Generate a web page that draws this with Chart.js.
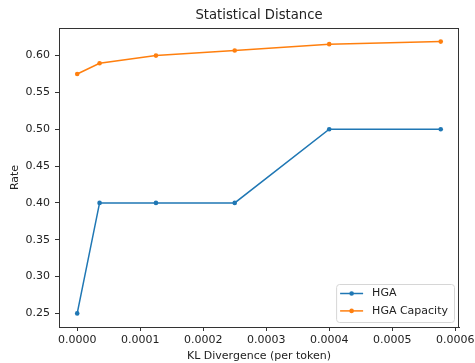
<!DOCTYPE html>
<html>
<head>
<meta charset="utf-8">
<script src="https://cdn.jsdelivr.net/npm/chart.js@4/dist/chart.umd.min.js"></script>
<style>
  html, body { margin: 0; padding: 0; background: #fff; }
  canvas { display: block; }
</style>
</head>
<body>
<canvas id="c" width="475" height="363"></canvas>
<script>
const chartTitle = "Statistical Distance";
const xLabel = "KL Divergence (per token)";
const yLabel = "Rate";
const seriesNames = ["HGA", "HGA Capacity"];
const klValues = [0, 0.0000355, 0.000125, 0.00025, 0.0004, 0.000577];
const hgaRate = [0.25, 0.40, 0.40, 0.40, 0.50, 0.50];
const hgaCapacityRate = [0.575, 0.5895, 0.600, 0.607, 0.6155, 0.619];
const xTickValues = [0, 0.0001, 0.0002, 0.0003, 0.0004, 0.0005, 0.0006];
const yTickValues = [0.25, 0.30, 0.35, 0.40, 0.45, 0.50, 0.55, 0.60];

const FONT = "'DejaVu Sans', sans-serif";
const colors = ["#1f77b4", "#ff7f0e"];

function toPoints(xs, ys) { return xs.map((x, i) => ({ x: x, y: ys[i] })); }

const frameAndExtras = {
  id: 'frameAndExtras',
  afterDraw(chart) {
    const { ctx, chartArea: a } = chart;
    ctx.save();
    // top & right spines
    ctx.strokeStyle = '#333';
    ctx.lineWidth = 1;
    ctx.beginPath();
    ctx.moveTo(a.left, a.top + 0.5);
    ctx.lineTo(a.right, a.top + 0.5);
    ctx.moveTo(a.right - 0.5, a.top);
    ctx.lineTo(a.right - 0.5, a.bottom);
    ctx.stroke();
    // title
    ctx.fillStyle = '#222';
    ctx.font = "13.2px " + FONT;
    ctx.textAlign = 'center';
    ctx.textBaseline = 'middle';
    ctx.fillText(chartTitle, (a.left + a.right) / 2, 16);
    // legend
    ctx.font = "11px " + FONT;
    const ds = chart.data.datasets;
    let tw = 0;
    ds.forEach(d => { tw = Math.max(tw, ctx.measureText(d.label).width); });
    const boxRight = a.right - 5;
    const boxBottom = a.bottom - 5;
    const rowH = 17.4;
    const boxH = rowH * (ds.length - 1) + 20.6;
    const boxW = tw + 42;
    const boxLeft = boxRight - boxW;
    const boxTop = boxBottom - boxH;
    ctx.beginPath();
    if (ctx.roundRect) ctx.roundRect(boxLeft + 0.5, boxTop + 0.5, boxW, boxH, 3);
    else ctx.rect(boxLeft + 0.5, boxTop + 0.5, boxW, boxH);
    ctx.fillStyle = 'rgba(255,255,255,0.8)';
    ctx.fill();
    ctx.strokeStyle = '#d6d6d6';
    ctx.lineWidth = 1;
    ctx.stroke();
    ds.forEach((d, i) => {
      const y = boxTop + 9.5 + rowH * i;
      ctx.strokeStyle = d.borderColor;
      ctx.lineWidth = 1.5;
      ctx.beginPath();
      ctx.moveTo(boxLeft + 4, y);
      ctx.lineTo(boxLeft + 27, y);
      ctx.stroke();
      ctx.fillStyle = d.borderColor;
      ctx.beginPath();
      ctx.arc(boxLeft + 15.5, y, 2.3, 0, Math.PI * 2);
      ctx.fill();
      ctx.fillStyle = '#222';
      ctx.textAlign = 'left';
      ctx.textBaseline = 'middle';
      ctx.fillText(d.label, boxLeft + 36, y);
    });
    ctx.restore();
  }
};

new Chart(document.getElementById('c'), {
  type: 'line',
  data: {
    datasets: [
      { label: seriesNames[0], data: toPoints(klValues, hgaRate), borderColor: colors[0], backgroundColor: colors[0],
        borderWidth: 1.5, pointRadius: 2.3, pointHoverRadius: 2.3, pointBorderWidth: 0, tension: 0 },
      { label: seriesNames[1], data: toPoints(klValues, hgaCapacityRate), borderColor: colors[1], backgroundColor: colors[1],
        borderWidth: 1.5, pointRadius: 2.3, pointHoverRadius: 2.3, pointBorderWidth: 0, tension: 0 }
    ]
  },
  options: {
    responsive: false,
    animation: false,
    events: [],
    layout: { padding: { left: 0, right: 16, top: 28, bottom: 0 } },
    plugins: { legend: { display: false }, title: { display: false }, tooltip: { enabled: false } },
    scales: {
      x: {
        type: 'linear',
        min: -0.0000289,
        max: 0.000606,
        afterBuildTicks(s) { s.ticks = xTickValues.map(v => ({ value: v })); },
        afterFit(s) { s.height = 36; s.paddingLeft = 0; s.paddingRight = 0; },
        ticks: {
          font: { family: FONT, size: 11 }, color: '#222', padding: 3, maxRotation: 0, autoSkip: false,
          callback: v => Number(v).toFixed(4)
        },
        grid: { display: true, drawOnChartArea: false, drawTicks: true, tickLength: 4, color: '#333' },
        border: { display: true, color: '#333', width: 1 },
        title: { display: true, text: xLabel, font: { family: FONT, size: 11 }, color: '#222', padding: { top: 0, bottom: 0 } }
      },
      y: {
        type: 'linear',
        min: 0.23155,
        max: 0.63745,
        afterBuildTicks(s) { s.ticks = yTickValues.map(v => ({ value: v })); },
        afterFit(s) { s.width = 59; s.paddingTop = 0; s.paddingBottom = 0; },
        ticks: {
          font: { family: FONT, size: 11 }, color: '#222', padding: 5, autoSkip: false,
          callback: v => Number(v).toFixed(2)
        },
        grid: { display: true, drawOnChartArea: false, drawTicks: true, tickLength: 4, color: '#333' },
        border: { display: true, color: '#333', width: 1 },
        title: { display: true, text: yLabel, font: { family: FONT, size: 11 }, color: '#222', padding: { top: 9, bottom: 0 } }
      }
    }
  },
  plugins: [frameAndExtras]
});
</script>
</body>
</html>
